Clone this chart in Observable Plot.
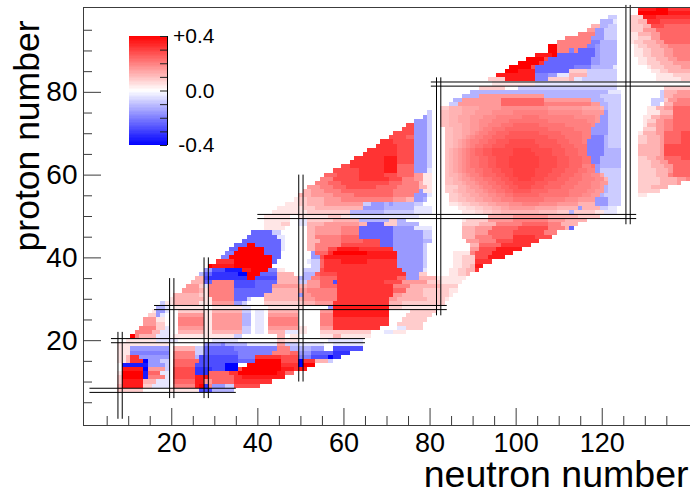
<!DOCTYPE html>
<html><head><meta charset="utf-8">
<script src="https://cdn.jsdelivr.net/npm/d3@7"></script>
<script src="https://cdn.jsdelivr.net/npm/@observablehq/plot@0.6"></script>
<style>
html,body{margin:0;padding:0;background:#fff;overflow:hidden}
#wrap{position:relative;width:690px;height:488px}
#wrap svg{display:block}
#bar{position:absolute;left:129px;top:24px}
</style></head><body><div id="wrap"><div id="main"></div><div id="bar"></div></div>
<script>
// Each row: proton number, then runs "firstNeutron:level ... endNeutron".
// Levels: 0-9,A are red steps of +0.04; B-J are the half steps between them
// (B=0.02, C=0.06 ... J=0.34); a-j are blue steps of -0.04; . is zero.
const lightRows = [
[8,"8:2 14:. 20:1 27:g 30:c 35"],
[9,"8:3 9:9 14:2 16:a 20:. 21:5 26:9 27:A 28:h 29:5 30:d 33:b 35:7 41"],
[10,"8:2 9:9 14:3 17:a 20:. 21:6 26:9 28:4 30:6 35:8 44"],
[11,"8:2 9:A 14:i 15:5 19:a 20:. 21:7 26:9 29:6 35:8 37:9 47"],
[12,"8:1 9:A 14:i 15:6 18:a 20:. 21:7 26:h 29:6 34:8 36:A 45:9 47:6 49"],
[13,"9:9 14:j 15:4 19:b 20:. 21:7 26:h 30:g 33:j 36:7 37:A 46:9 49:8 50:9 52"],
[14,"9:i 15:d 19:b 20:. 21:6 26:g 33:j 36:. 38:A 46:8 50:j 51:A 54"],
[15,"8:1 10:3 11:8 14:j 15:d 18:b 20:. 21:6 27:g 36:f 40:A 46:7 50:j 51:8 54:3 57:b 58"],
[16,"8:1 10:3 11:8 13:d 20:. 21:5 26:c 27:g 36:e 40:8 46:7 50:e 53:g 57:j 58:h 60"],
[17,"8:1 11:e 20:. 21:5 26:b 28:f 36:e 44:5 48:6 50:d 53:f 58:h 62"],
[18,"8:1 11:d 20:. 21:3 26:b 28:f 35:e 45:5 48:c 53:d 56:. 58:g 65"],
[19,"8:1 20:. 28:d 32:e 33:c 38:a 45:4 47:b 50:a 56:. 58:a 65:. 67"],
[20,"10:1 17:a 22:. 30:a 36:. 45:2 47:1 50:. 57:a 65:. 67"]
];
const middleRows = [
[21,"11:A 12:5 13:3 17:a 20:. 21:1 35:b 37:. 45:3 47:. 48:1 50:. 55:1 58:3 60:1 67"],
[22,"12:5 16:3 18:a 20:. 22:3 28:1 30:3 37:b 39:. 40:a 42:. 43:3 47:a 50:1 52:. 55:2 67:. 70:a 72:1 75"],
[23,"13:5 17:2 19:a 20:. 22:4 28:1 30:4 37:b 39:. 40:a 42:. 43:4 50:1 52:. 55:4 58:8 69:. 73:a 75:2 79"],
[24,"14:4 17:2 19:. 22:5 28:1 30:4 37:c 39:. 40:a 42:. 43:5 50:. 55:5 58:8 71:. 73:2 79"],
[25,"14:4 17:1 19:. 22:5 28:1 30:4 37:c 39:. 40:a 42:. 43:5 50:. 55:5 58:8 71:. 74:2 80"],
[26,"15:2 17:d 18:a 19:. 22:4 28:1 30:4 37:c 39:. 40:a 42:. 43:4 50:. 55:5 58:9 71:. 75:2 81"],
[27,"16:1 17:d 19:a 20:. 22:2 28:1 30:3 37:b 39:. 40:a 42:. 43:3 50:. 55:4 58:9 71:. 76:2 82"],
[28,"17:c 19:a 20:. 21:1 28:. 30:1 37:a 39:. 43:1 51:. 57:d 58:9 71:2 74:1 83"],
[29,"18:b 19:1 21:3 27:1 30:4 35:d 37:b 38:. 42:2 51:3 54:4 58:8 71:3 74:2 84"],
[30,"20:1 21:3 28:1 30:5 35:f 38:b 39:. 42:3 51:4 54:5 59:8 71:4 73:3 80:2 84:1 85"],
[31,"21:3 27:2 28:1 29:5 35:f 42:3 50:d 51:4 53:5 59:8 72:4 74:3 79:2 85:1 86"],
[32,"23:4 27:3 28:1 29:5 35:f 44:3 50:4 52:5 59:8 72:6 75:3 79:2 85:1 87"],
[33,"24:4 27:2 28:a 29:5 35:g 40:f 44:4 50:3 52:4 55:6 59:8 72:5 76:3 83:2 87"],
[34,"25:3 28:f 30:5 35:g 40:f 45:3 50:b 52:4 55:6 58:g 59:8 70:7 74:4 80:2 83:1 88"],
[35,"26:3 28:g 29:h 38:A 40:g 45:3 50:c 53:5 55:6 59:8 73:6 75:d 78:3 82:1 89"],
[36,"27:c 28:f 30:h 36:j 38:A 41:f 45:3 49:. 51:c 54:6 55:7 59:8 75:d 78:2 80:. 85:1 87:2 89:3 90"],
[37,"28:d 30:g 33:i 37:9 39:A 43:e 45:1 47:. 51:b 55:7 56:8 74:d 79:a 80:. 85:1 87:2 89:3 91:8 92"],
[38,"29:A 30:9 35:A 44:. 53:b 55:6 56:8 73:d 79:b 80:. 86:1 88:2 90:3 91:9 93"],
[39,"31:8 35:A 44:f 45:. 52:a 53:b 55:6 56:8 60:9 66:8 73:d 79:b 80:. 86:1 88:2 91:8 95"],
[40,"32:e 34:A 44:f 46:. 53:d 55:7 56:9 73:d 79:b 80:. 86:1 88:2 91:7 94:9 98"],
[41,"33:e 35:A 42:f 46:. 53:d 54:6 57:8 58:A 66:9 73:d 79:b 80:. 86:1 90:5 91:7 95:9 100"],
[42,"34:f 36:A 42:f 46:a 47:. 52:3 54:5 57:7 59:9 64:8 72:d 79:b 80:. 90:4 92:7 96:9 102"],
[43,"35:f 38:A 40:f 46:a 47:. 52:3 54:5 60:7 69:f 72:d 79:b 80:. 90:3 92:6 97:8 104"],
[44,"37:f 46:a 47:. 52:3 55:5 60:6 65:7 69:f 72:d 79:c 81:. 89:4 92:5 96:7 100:8 106"],
[45,"38:f 45:a 47:. 52:3 54:5 60:6 64:f 72:d 79:b 81:. 88:3 91:5 95:6 100:8 105:7 109"],
[46,"39:f 44:b 46:. 52:3 54:4 60:5 64:f 72:d 79:b 81:. 88:3 91:4 94:6 100:7 107:5 110"],
[47,"42:1 47:. 52:3 54:4 60:5 64:f 72:d 77:a 81:. 88:3 91:4 95:6 101:7 108:5 112:3 113:f 114"],
[48,"42:1 46:2 48:. 50:a 52:3 56:4 64:3 66:f 70:2 73:c 78:. 88:2 92:3 96:5 102:6 108:5 111:3 115"],
[49,"42:1 48:. 50:a 52:2 58:3 64:c 71:2 73:c 75:. 88:1 89:2 94:4 100:5 108:4 112:3 117"],
[50,"42:1 48:. 50:1 57:2 60:1 62:a 78:. 94:3 100:4 108:3 115:2 120"]
];
const heavyRows = [
[51,"44:1 52:2 62:c 70:b 77:a 81:. 88:1 91:C 93:2 95:D 97:3 106:D 110:2 113:c 114:2 119:1 121:a 124"],
[52,"45:1 51:2 54:3 65:d 70:c 77:a 81:. 87:1 89:C 91:2 93:D 95:3 97:E 99:4 105:E 110:3 115:d 116:3 120:b 122:a 124"],
[53,"47:1 50:2 52:3 56:4 65:b 67:d 70:c 71:d 72:c 77:b 79:. 85:1 87:C 88:2 90:D 92:3 94:E 96:4 99:F 102:5 106:F 110:4 115:3 119:d 122:b 125"],
[54,"49:1 50:2 52:3 56:4 60:5 72:4 75:3 77:d 79:c 80:. 85:2 87:D 89:3 91:E 93:4 95:F 97:5 100:G 107:5 112:F 115:4 119:d 122:b 125"],
[55,"50:3 53:4 58:5 63:6 72:5 77:d 80:a 81:. 85:2 87:D 88:3 90:E 92:4 94:F 96:5 98:G 100:6 106:G 113:5 116:F 118:4 120:c 121:b 125:. 129:1 131"],
[56,"51:3 53:4 56:5 60:6 72:5 78:d 79:1 81:. 84:2 86:D 87:3 89:E 91:4 93:F 94:5 96:G 98:6 100:H 104:6 108:G 113:5 117:F 119:4 121:c 122:b 125:. 129:2 134"],
[57,"52:4 55:5 58:6 61:7 68:6 73:5 78:3 80:1 81:. 84:2 87:3 89:E 90:4 92:F 93:5 95:G 97:6 99:H 101:7 104:H 107:6 111:G 114:5 118:F 120:4 121:c 122:b 125:. 129:2 132:3 136"],
[58,"54:5 57:6 60:7 71:6 74:5 78:3 79:1 81:. 84:D 86:3 88:E 89:4 91:F 92:5 94:G 96:6 98:H 100:7 105:H 108:6 112:G 115:5 118:F 120:4 122:b 125:. 129:2 134:3 138:4 139"],
[59,"55:5 58:7 64:8 71:7 74:5 77:4 79:1 81:. 84:D 86:3 87:E 88:4 90:F 91:5 93:G 95:6 97:H 99:7 101:I 104:7 107:H 110:6 113:G 116:5 119:F 121:3 122:b 125:. 129:2 134:3 138:4 140:5 141"],
[60,"56:6 59:7 64:8 70:7 73:6 77:4 79:1 81:. 84:D 85:3 87:E 88:4 89:F 90:5 92:G 93:6 96:H 98:7 100:I 105:7 108:H 111:6 114:G 116:5 118:F 120:E 121:b 125:. 129:2 133:3 136:5 137:6 141"],
[61,"58:7 64:8 70:9 73:6 77:d 80:a 81:. 84:D 85:3 86:E 87:4 88:F 89:5 91:G 93:6 95:H 97:7 100:I 105:7 109:H 112:6 115:G 117:5 119:d 120:b 125:. 129:2 133:3 136:4 137:6 141"],
[62,"60:7 62:8 70:9 73:6 77:d 80:b 81:. 84:D 85:3 86:E 87:4 88:F 89:5 90:G 92:6 94:H 96:7 99:I 106:7 110:H 113:6 116:5 118:G 119:d 120:c 125:. 129:2 132:3 135:4 137:6 141"],
[63,"62:8 70:9 73:7 77:d 80:b 81:. 84:D 85:3 86:E 87:4 88:F 89:5 90:G 92:6 94:H 96:7 99:I 106:7 110:H 113:6 116:G 118:e 120:c 125:. 129:2 132:3 134:4 136:6 141"],
[64,"63:8 70:9 73:7 77:d 80:b 81:. 84:D 85:3 86:E 87:4 88:F 89:5 90:G 92:6 94:H 96:7 99:I 106:7 110:H 113:6 116:G 118:e 120:c 125:. 129:2 131:3 133:4 135:6 139:7 141"],
[65,"65:8 73:7 77:d 80:b 81:. 84:D 85:3 86:E 87:4 88:F 89:5 90:G 91:6 93:H 95:7 100:I 105:7 109:H 112:6 115:G 117:e 121:c 125:. 129:3 134:4 135:7 141"],
[66,"66:8 73:7 77:d 80:b 81:. 84:D 85:3 86:E 87:4 88:F 89:5 90:G 91:6 93:H 95:7 100:I 104:7 109:H 112:6 115:G 117:e 121:c 125:. 129:3 134:4 135:7 141"],
[67,"68:8 73:7 77:d 80:b 81:. 84:D 86:3 87:E 88:4 89:F 90:5 91:G 93:6 95:H 98:7 106:H 111:6 114:G 117:e 121:c 122:b 125:. 129:3 134:4 135:7 141"],
[68,"69:8 72:7 77:d 80:b 81:. 84:D 86:3 87:E 88:4 89:F 90:5 92:G 94:6 96:H 99:7 105:H 110:6 113:G 116:5 117:e 121:c 122:b 125:. 129:2 131:3 134:4 135:6 139:7 141"],
[69,"71:7 75:6 77:d 80:b 81:. 84:D 86:3 88:E 89:4 90:F 91:5 93:G 95:6 98:H 108:6 112:G 116:5 118:e 121:c 122:b 125:. 129:2 131:3 134:4 135:6 139:7 141"],
[70,"72:7 77:d 80:b 81:. 84:D 86:3 88:E 90:4 91:F 92:5 94:G 96:6 99:H 106:6 111:G 116:5 118:d 122:b 125:. 129:1 130:3 133:4 135:6 139:7 141"],
[71,"74:7 77:d 80:b 81:. 84:D 86:3 88:E 90:4 92:F 93:5 95:G 98:6 108:G 114:5 118:d 122:b 125:. 130:2 133:4 135:5 137:6 141"],
[72,"75:7 77:d 80:b 81:. 83:D 85:3 88:E 90:4 92:F 94:5 97:G 100:6 106:G 112:5 118:F 119:d 122:b 125:. 130:1 131:3 133:4 135:5 137:6 141"],
[73,"77:d 80:b 81:. 83:D 85:3 87:E 90:4 92:F 95:5 99:G 108:5 117:F 119:4 120:d 122:b 125:. 130:1 131:2 133:4 135:5 137:6 141"],
[74,"79:d 80:b 81:. 83:D 85:3 87:E 90:4 93:F 96:5 102:G 106:5 114:F 119:4 120:d 122:b 125:. 130:1 132:3 134:4 137:6 141"],
[75,"80:b 81:. 83:D 85:3 88:E 91:4 95:F 100:5 108:F 116:4 121:d 122:b 125:. 131:1 134:3 137:6 141"],
[76,"83:2 85:3 88:E 92:4 97:F 108:4 116:E 120:3 121:c 122:b 125:. 131:1 133:3 135:4 137:6 141"]
];
const topRows = [
[77,"85:b 87:4 97:6 107:5 118:4 120:c 122:b 125:. 132:b 134:. 135:3 137:5 141"],
[78,"86:c 88:4 97:6 107:4 118:c 121:b 125:. 132:b 135:2 136:4 138:5 141"],
[79,"88:c 92:4 107:c 120:b 125:. 134:b 135:3 137:4 141"],
[80,"90:c 122:a 125:. 134:b 135:3 138:4 141"],
[81,"92:2 98:. 101:b 124:. 135:2 141"],
[82,"95:1 105:a 124"],
[83,"94:2 98:9 105:e 108:2 113:3 114:a 116:b 124:. 133:1 139:2 141"],
[84,"96:9 105:e 108:d 110:a 113:3 117:b 124:. 133:1 137:2 141"],
[85,"98:A 101:9 105:f 113:2 117:b 124:. 132:1 134:2 136:3 141"],
[86,"99:A 104:7 105:f 114:e 118:c 123:a 124:. 131:1 132:2 135:3 139:4 141"],
[87,"101:A 106:8 107:f 118:d 120:c 124:. 129:1 131:2 134:3 137:4 141"],
[88,"103:A 107:7 108:f 118:d 120:c 124:. 129:1 131:2 133:3 136:4 138:5 141"],
[89,"105:9 109:A 110:f 119:d 120:c 124:. 128:1 130:2 132:3 135:4 137:5 141"],
[90,"108:A 110:5 113:e 114:5 115:f 119:d 120:c 124:. 128:1 130:2 132:3 135:4 137:5 141"],
[91,"108:A 110:5 117:e 119:d 120:c 124:. 128:1 129:2 131:3 134:4 136:5 141"],
[92,"110:5 118:e 120:c 124:. 127:1 128:2 130:3 133:4 135:6 141"],
[93,"112:5 118:d 121:b 124:. 127:1 129:2 132:4 134:6 141"],
[94,"115:5 119:d 121:b 124:. 127:1 129:3 132:4 134:6 141"],
[95,"117:4 119:d 121:b 124:. 127:2 130:4 133:6 141"],
[96,"118:3 120:c 122:b 124:. 127:2 130:3 132:7 135:6 141"],
[97,"120:c 123:a 124:. 127:2 129:3 131:8 134:7 141"],
[98,"122:b 124:. 127:2 130:9 133:8 141"],
[99,"129:A 136:9 141"],
[100,"129:9 133:A 136:8 141"]
];
const magicNeutrons = [[8,1,22],[20,6,35],[28,6,40],[50,10,60],[82,26,83.5],[126,48,101]];
const magicProtons = [[8,1,35],[20,6,65],[28,16,84],[50,40,128],[82,80.3,141]];
const xMajor = [20,40,60,80,100,120];
const xMinor = [5,10,15,25,30,35,45,50,55,65,70,75,85,90,95,105,110,115,125,130,135];
const yMajor = [20,40,60,80];
const yMinor = [5,10,15,25,30,35,45,50,55,65,70,75,85,90,95];
const barTicks = [-0.4,-0.3,-0.2,-0.1,0,0.1,0.2,0.3,0.4];
const barLabels = [["+0.4",0.4],["0.0",0],["-0.4",-0.4]];

const halfSteps = {B:0.02,C:0.06,D:0.10,E:0.14,F:0.18,G:0.22,H:0.26,I:0.30,J:0.34};
function levelValue(c){
  if(c===".") return 0;
  if(c==="A") return 0.4;
  if(c in halfSteps) return halfSteps[c];
  if(c>="0"&&c<="9") return +c*0.04;
  return -(c.charCodeAt(0)-96)*0.04;
}
const cells=[];
for(const [z,text] of [...lightRows,...middleRows,...heavyRows,...topRows]){
  const t=text.split(" ");
  for(let i=0;i<t.length-1;i++){
    const [a,c]=t[i].split(":");
    const next=parseInt(t[i+1]);
    if(c===".") continue;
    for(let n=+a;n<next;n++) cells.push({n,z,v:levelValue(c)});
  }
}
const colorOpt={type:"linear",domain:[-0.4,0,0.4],range:["#0000ff","#ffffff","#ff0000"]};
const font="'Liberation Sans',Arial,Helvetica,sans-serif";
const axisGray="#3c3c3c";
const main=Plot.plot({
  width:690,height:488,
  marginLeft:83,marginRight:0,marginTop:7,marginBottom:63,
  style:{fontFamily:font,background:"#fff",color:"#000"},
  x:{domain:[-0.5,140.5]},
  y:{domain:[-0.5,100.5]},
  color:colorOpt,
  marks:[
    Plot.rect(cells,{x1:d=>d.n-0.5,x2:d=>d.n+0.5,y1:d=>d.z-0.5,y2:d=>d.z+0.5,fill:"v",shapeRendering:"crispEdges"}),
    Plot.ruleX(magicNeutrons,{x:d=>d[0]-0.5,y1:d=>d[1],y2:d=>d[2],stroke:"#000",strokeWidth:1}),
    Plot.ruleX(magicNeutrons,{x:d=>d[0]+0.5,y1:d=>d[1],y2:d=>d[2],stroke:"#000",strokeWidth:1}),
    Plot.ruleY(magicProtons,{y:d=>d[0]-0.5,x1:d=>d[1],x2:d=>d[2],stroke:"#000",strokeWidth:1}),
    Plot.ruleY(magicProtons,{y:d=>d[0]+0.5,x1:d=>d[1],x2:d=>d[2],stroke:"#000",strokeWidth:1}),
    Plot.frame({anchor:"left",stroke:axisGray}),
    Plot.frame({anchor:"top",stroke:axisGray}),
    Plot.frame({anchor:"bottom",stroke:axisGray}),
    Plot.ruleX(xMajor,{insetTop:401,stroke:axisGray}),
    Plot.ruleX(xMinor,{insetTop:409,stroke:axisGray}),
    Plot.ruleY(yMajor,{insetRight:589,stroke:axisGray}),
    Plot.ruleY(yMinor,{insetRight:598,stroke:axisGray}),
    Plot.axisX({ticks:xMajor,tickSize:0,tickPadding:7,fontSize:27,label:null,tickFormat:d=>d}),
    Plot.axisY({ticks:yMajor,tickSize:0,tickPadding:6,fontSize:28,label:null,tickFormat:d=>d}),
    Plot.text(["neutron number"],{frameAnchor:"bottom-right",textAnchor:"end",lineAnchor:"middle",dx:-2,dy:49,fontSize:37.5,fill:"#000"}),
    Plot.text(["proton number"],{frameAnchor:"top-left",textAnchor:"end",lineAnchor:"middle",rotate:-90,dx:-56,dy:13,fontSize:35.5,fill:"#000"})
  ]
});
document.getElementById("main").append(main);
const barLevels=d3.range(-0.4,0.4,0.01);
const bar=Plot.plot({
  width:91,height:133,marginLeft:0,marginRight:53,marginTop:12,marginBottom:12,
  style:{fontFamily:font,background:"transparent",overflow:"visible"},
  x:{domain:[0,1],axis:null},
  y:{domain:[-0.4,0.4],axis:null},
  color:colorOpt,
  marks:[
    Plot.rect(barLevels,{x1:0,x2:1,y1:d=>d,y2:d=>d+0.01,fill:d=>d+0.005,shapeRendering:"crispEdges"}),
    Plot.ruleY(barTicks,{insetLeft:31,stroke:"#222"}),
    Plot.ruleX([1],{stroke:"#000"}),
    Plot.text(barLabels,{text:d=>d[0],y:d=>d[1],frameAnchor:"right",textAnchor:"end",dx:47,fontSize:21,fill:"#000"})
  ]
});
document.getElementById("bar").append(bar);
</script></body></html>
